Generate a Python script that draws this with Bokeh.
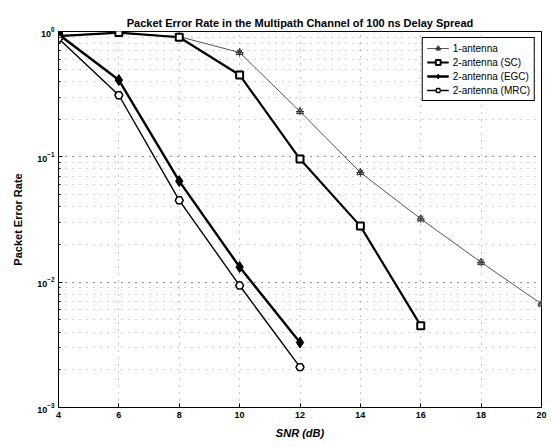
from bokeh.plotting import figure
from bokeh.models import Legend, LegendItem, FixedTicker, LogTicker
from bokeh.embed import file_html
from bokeh.resources import INLINE

snr = [4, 6, 8, 10, 12, 14, 16, 18, 20]
per_1ant = [0.93, 0.97, 0.91, 0.68, 0.23, 0.075, 0.032, 0.0144, 0.0067]
snr_sc = [4, 6, 8, 10, 12, 14, 16]
per_sc = [0.92, 0.98, 0.90, 0.45, 0.096, 0.028, 0.0045]
snr_egc = [4, 6, 8, 10, 12]
per_egc = [0.95, 0.41, 0.064, 0.0132, 0.0033]
snr_mrc = [4, 6, 8, 10, 12]
per_mrc = [0.88, 0.31, 0.045, 0.0094, 0.0021]
x_ticks = [4, 6, 8, 10, 12, 14, 16, 18, 20]

FONT = "Liberation Sans"

p = figure(width=554, height=447, output_backend="svg", toolbar_location=None,
           y_axis_type="log", x_range=(4, 20), y_range=(1e-3, 1),
           min_border_left=58, min_border_right=13, min_border_top=31, min_border_bottom=40,
           title="Packet Error Rate in the Multipath Channel of 100 ns Delay Spread")

p.title.align = "center"
p.title.text_font = FONT
p.title.text_font_size = "11px"
p.title.text_font_style = "bold"
p.title.text_color = "black"
p.title.offset = 0
p.title.standoff = 6

p.outline_line_color = "black"
p.outline_line_width = 1
p.background_fill_color = "white"
p.border_fill_color = "white"

p.xaxis.ticker = FixedTicker(ticks=x_ticks)
p.yaxis.ticker = LogTicker(num_minor_ticks=10)
for ax in (p.xaxis, p.yaxis):
    ax.major_tick_in = 4
    ax.major_tick_out = 0
    ax.minor_tick_in = 2
    ax.minor_tick_out = 0
    ax.axis_line_color = "black"
    ax.major_tick_line_color = "black"
    ax.major_label_text_color = "black"
    ax.axis_label_text_color = "black"
    ax.major_label_text_font = FONT
    ax.major_label_text_font_size = "9px"
    ax.major_label_text_font_style = "bold"
    ax.axis_label_text_font = FONT
    ax.axis_label_text_font_size = "11px"
    ax.axis_label_text_font_style = "bold"
p.xaxis.minor_tick_line_color = None
p.yaxis.minor_tick_line_color = "black"
p.xaxis.axis_label = "SNR (dB)"
p.xaxis.axis_label_text_font_style = "bold italic"
p.xaxis.axis_label_standoff = 6
p.yaxis.axis_label = "Packet Error Rate"
p.yaxis.axis_label_standoff = 10
p.xaxis.major_label_standoff = 4
p.yaxis.major_label_standoff = 4

p.xgrid.grid_line_color = "#444444"
p.xgrid.grid_line_dash = "1 6"
p.xgrid.grid_line_alpha = 0.6
p.ygrid.grid_line_color = "#444444"
p.ygrid.grid_line_dash = "1 6"
p.ygrid.grid_line_alpha = 0.6
p.ygrid.minor_grid_line_color = "#444444"
p.ygrid.minor_grid_line_dash = "1 6"
p.ygrid.minor_grid_line_alpha = 0.5

l1 = p.line(snr, per_1ant, line_color="#555555", line_width=1)
m1 = p.scatter(snr, per_1ant, marker="triangle", size=7, fill_color="white",
               line_color="#333333", line_width=1)
m1b = p.scatter(snr, per_1ant, marker="asterisk", size=8, line_color="#333333", line_width=1)

l2 = p.line(snr_sc, per_sc, line_color="black", line_width=2.2)
m2 = p.scatter(snr_sc, per_sc, marker="square", size=7, fill_color="white",
               line_color="black", line_width=2)

l3 = p.line(snr_egc, per_egc, line_color="black", line_width=2.4)
m3 = p.scatter(snr_egc, per_egc, marker="diamond", size=11, fill_color="black",
               line_color="black", line_width=1)

l4 = p.line(snr_mrc, per_mrc, line_color="black", line_width=1.4)
m4 = p.scatter(snr_mrc, per_mrc, marker="hex", size=8, fill_color="white",
               line_color="black", line_width=1.5)

legend = Legend(items=[
    LegendItem(label="1-antenna", renderers=[l1, m1, m1b]),
    LegendItem(label="2-antenna (SC)", renderers=[l2, m2]),
    LegendItem(label="2-antenna (EGC)", renderers=[l3, m3]),
    LegendItem(label="2-antenna (MRC)", renderers=[l4, m4]),
], location="top_right")
legend.label_text_font = FONT
legend.label_text_font_size = "10px"
legend.label_text_color = "black"
legend.label_height = 10
legend.glyph_height = 12
legend.glyph_width = 22
legend.spacing = 2
legend.padding = 4
legend.margin = 6
legend.label_standoff = 4
legend.border_line_color = "black"
legend.border_line_width = 1
legend.border_line_alpha = 1
legend.background_fill_alpha = 1
p.add_layout(legend)

open("out.html", "w").write(file_html(p, INLINE))
